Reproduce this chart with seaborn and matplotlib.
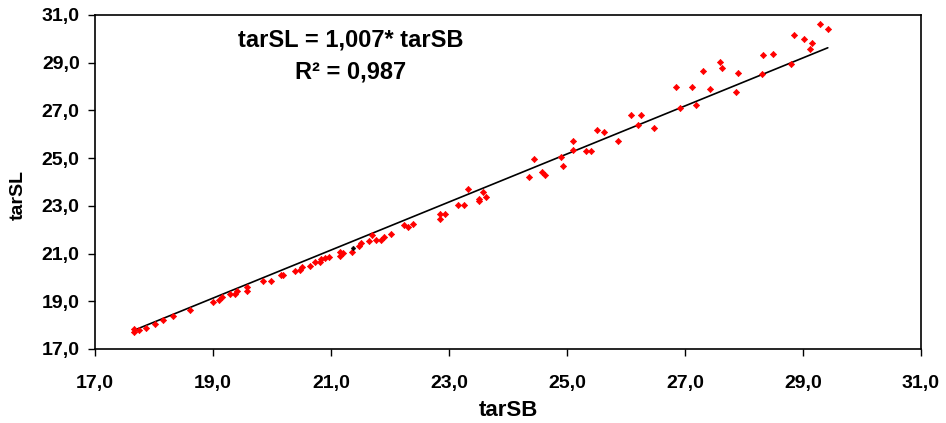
import numpy as np
import pandas as pd
import matplotlib
matplotlib.use("Agg")
import matplotlib.pyplot as plt
import seaborn as sns
from matplotlib.ticker import FuncFormatter, FixedLocator

tarSB = [17.66, 17.66, 17.74, 17.86, 18.02, 18.16, 18.32, 18.61, 19.00, 19.10,
         19.16, 19.28, 19.38, 19.41, 19.57, 19.57, 19.85, 19.99, 20.15, 20.18,
         20.39, 20.47, 20.50, 20.65, 20.73, 20.81, 20.83, 20.89, 20.97, 21.15,
         21.15, 21.21, 21.35, 21.48, 21.51, 21.65, 21.70, 21.76, 21.84, 21.89,
         22.02, 22.23, 22.31, 22.39, 22.85, 22.85, 22.94, 23.15, 23.26, 23.32,
         23.51, 23.51, 23.57, 23.63, 24.36, 24.44, 24.57, 24.63, 24.89, 24.94,
         25.10, 25.10, 25.32, 25.40, 25.51, 25.62, 25.86, 26.08, 26.25, 26.21,
         26.47, 26.85, 26.91, 27.12, 27.18, 27.31, 27.42, 27.59, 27.62, 27.86,
         27.89, 28.30, 28.33, 28.49, 28.79, 28.84, 29.02, 29.12, 29.15, 29.29,
         29.42]
tarSL = [17.85, 17.72, 17.78, 17.90, 18.03, 18.21, 18.39, 18.65, 18.95, 19.06,
         19.19, 19.31, 19.31, 19.43, 19.61, 19.43, 19.86, 19.86, 20.10, 20.10,
         20.28, 20.33, 20.43, 20.50, 20.66, 20.66, 20.77, 20.82, 20.85, 21.07,
         20.89, 21.02, 21.07, 21.31, 21.44, 21.51, 21.76, 21.56, 21.56, 21.69,
         21.82, 22.18, 22.11, 22.25, 22.67, 22.47, 22.67, 23.03, 23.03, 23.70,
         23.28, 23.21, 23.57, 23.39, 24.19, 24.98, 24.44, 24.30, 25.04, 24.68,
         25.71, 25.36, 25.29, 25.29, 26.20, 26.09, 25.71, 26.81, 26.81, 26.39,
         26.27, 27.97, 27.12, 27.97, 27.24, 28.64, 27.91, 29.02, 28.77, 27.79,
         28.58, 28.53, 29.32, 29.38, 28.95, 30.17, 29.99, 29.56, 29.81, 30.61,
         30.41]
odd_SB = [21.38]
odd_SL = [21.25]
ticks = [17, 19, 21, 23, 25, 27, 29, 31]
slope = 1.007
equation = "tarSL = 1,007* tarSB"
r2_text = "R² = 0,987"

sns.set_theme(style="white")
plt.rcParams['font.family'] = ['Liberation Sans', 'DejaVu Sans']
for k in ['text.color', 'axes.labelcolor', 'xtick.color', 'ytick.color']:
    plt.rcParams[k] = 'black'

fig = plt.figure(figsize=(9.46, 4.23), dpi=100)
ax = fig.add_axes([95/946, (423-349)/423, (921-95)/946, (349-15)/423])

df = pd.DataFrame({"tarSB": tarSB, "tarSL": tarSL})
sns.scatterplot(data=df, x="tarSB", y="tarSL", ax=ax, color="#ff0000",
                marker="D", s=10, edgecolor="#ff0000", linewidth=0.5, zorder=3)
sns.scatterplot(x=odd_SB, y=odd_SL, ax=ax, color="black", marker="D", s=6,
                edgecolor="black", linewidth=0.3, zorder=3)

xl = np.array([min(tarSB), max(tarSB)])
sns.lineplot(x=xl, y=slope * xl, ax=ax, color="black", linewidth=1.2, zorder=2)

ax.set_xlim(17, 31)
ax.set_ylim(17, 31)
ax.xaxis.set_major_locator(FixedLocator(ticks))
ax.yaxis.set_major_locator(FixedLocator(ticks))
fmt = FuncFormatter(lambda v, p: f"{v:.1f}".replace(".", ","))
ax.xaxis.set_major_formatter(fmt)
ax.yaxis.set_major_formatter(fmt)
ax.tick_params(axis="both", which="major", direction="out", length=5, width=1,
               color="black", labelsize=14, bottom=True, left=True)
ax.tick_params(axis="x", pad=14)
ax.tick_params(axis="y", pad=6)
for lab in ax.get_xticklabels() + ax.get_yticklabels():
    lab.set_fontweight("bold")
for s in ax.spines.values():
    s.set_color("black")
    s.set_linewidth(1.2)

ax.set_xlabel("tarSB", fontsize=16, fontweight="bold")
ax.set_ylabel("tarSL", fontsize=14, fontweight="bold")
ax.xaxis.set_label_coords(0.5, -0.153)
ax.yaxis.set_label_coords(-0.083, 0.46)

ax.text(0.31, 0.925, equation, transform=ax.transAxes, ha="center", va="center",
        fontsize=17, fontweight="bold")
ax.text(0.31, 0.829, r2_text, transform=ax.transAxes, ha="center", va="center",
        fontsize=17, fontweight="bold")

fig.savefig("out.png", dpi=100)
